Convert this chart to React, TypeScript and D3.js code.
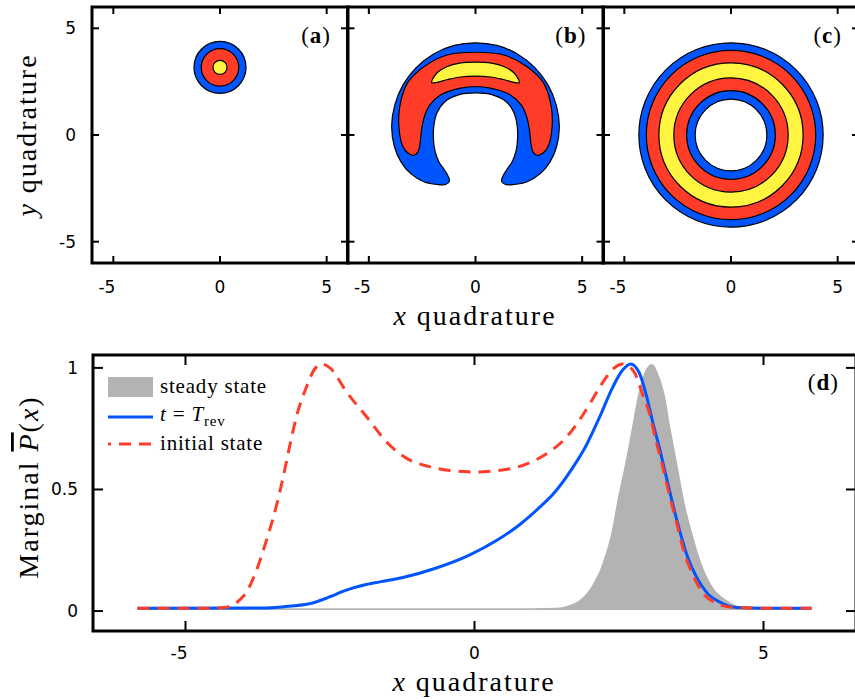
import { useEffect, useRef } from "react"
import * as d3 from "d3"

// tick values
const quadTicks = [-5, 0, 5]
const marginalTicks = [0, 0.5, 1]
const panelLabels = ["a", "b", "c"]

// contour levels: 0 = empty, 1 = blue, 2 = red, 3 = yellow
const ringCenterA = [0, 3.17]
const ringRadiiA = [1.22, 0.88, 0.33]
const ringLevelsA = [1, 2, 3]

const ringCenterC = [0, 0]
const ringRadiiC = [4.32, 3.97, 3.38, 2.68, 2.08, 1.68]
const ringLevelsC = [1, 2, 3, 2, 1, 0]

// panel (b): right halves of the contour outlines (mirrored about x = 0)
const horseshoeBlueHalf = [
  [0, 4.32], [1.0, 4.2], [1.96, 3.8], [2.77, 3.17], [3.39, 2.36], [3.78, 1.42],
  [3.93, 0.4], [3.8, -0.55], [3.5, -1.25], [3.05, -1.8], [2.42, -2.19], [1.8, -2.32],
  [1.4, -2.32], [1.22, -2.16], [1.3, -1.9], [1.45, -1.65], [1.72, -1.25], [1.9, -0.75],
  [1.97, -0.2], [1.95, 0.45], [1.8, 1.05], [1.45, 1.55], [0.8, 1.88], [0, 1.97],
]
const horseshoeRedHalf = [
  [0, 3.88], [1.33, 3.75], [2.42, 3.2], [3.2, 2.42], [3.55, 1.33], [3.59, 0.39],
  [3.42, -0.5], [3.15, -0.86], [2.9, -0.95], [2.7, -0.8], [2.6, -0.4], [2.52, 0.3],
  [2.4, 0.85], [2.15, 1.4], [1.64, 1.88], [0.7, 2.2], [0, 2.27],
]
const crescentYellowHalf = [
  [0, 3.42], [0.75, 3.37], [1.35, 3.2], [1.8, 2.92], [2.02, 2.6], [2.05, 2.45],
  [1.8, 2.47], [1.3, 2.6], [0.7, 2.72], [0, 2.76],
]
const horseshoeHalves = [horseshoeBlueHalf, horseshoeRedHalf, crescentYellowHalf]
const horseshoeLevels = [1, 2, 3]

// panel (d): marginal distributions
const steadyX = [-5.83, 1.0, 1.42, 1.65, 1.82, 2.04, 2.22, 2.37, 2.48, 2.6, 2.72, 2.83, 2.94, 3.0, 3.06, 3.12, 3.17, 3.29, 3.4, 3.52, 3.63, 3.78, 3.92, 4.1, 4.36, 4.64, 5.0, 5.83]
const steadyP = [0.012, 0.012, 0.014, 0.025, 0.045, 0.107, 0.2, 0.325, 0.465, 0.6, 0.75, 0.89, 0.98, 1.006, 1.016, 1.006, 0.98, 0.89, 0.74, 0.59, 0.45, 0.31, 0.2, 0.107, 0.045, 0.016, 0.012, 0.012]

const revX = [-5.83, -3.6, -3.2, -2.8, -2.51, -2.22, -1.93, -1.64, -1.24, -0.66, -0.09, 0.38, 0.78, 1.12, 1.41, 1.7, 1.93, 2.16, 2.39, 2.56, 2.7, 2.85, 2.97, 3.08, 3.2, 3.32, 3.43, 3.55, 3.69, 3.84, 4.01, 4.24, 4.53, 5.0, 5.83]
const revP = [0.012, 0.013, 0.02, 0.033, 0.058, 0.086, 0.106, 0.12, 0.138, 0.177, 0.23, 0.29, 0.355, 0.425, 0.495, 0.59, 0.68, 0.795, 0.92, 0.99, 1.016, 0.98, 0.89, 0.78, 0.67, 0.55, 0.44, 0.33, 0.22, 0.14, 0.078, 0.037, 0.015, 0.012, 0.012]

const initX = [-5.83, -4.6, -4.33, -3.98, -3.77, -3.6, -3.43, -3.32, -3.2, -3.08, -2.91, -2.78, -2.65, -2.5, -2.21, -1.87, -1.5, -1.15, -0.8, -0.43, 0, 0.61, 1.0, 1.3, 1.59, 1.8, 1.99, 2.19, 2.42, 2.56, 2.68, 2.77, 2.91, 3.03, 3.14, 3.26, 3.37, 3.49, 3.63, 3.78, 3.95, 4.18, 4.47, 5.0, 5.83]
const initP = [0.012, 0.012, 0.015, 0.066, 0.169, 0.29, 0.43, 0.54, 0.675, 0.8, 0.92, 0.99, 1.016, 1.0, 0.9, 0.8, 0.69, 0.625, 0.595, 0.578, 0.572, 0.585, 0.615, 0.655, 0.715, 0.78, 0.85, 0.93, 1.0, 1.016, 1.005, 0.98, 0.89, 0.81, 0.7, 0.59, 0.48, 0.37, 0.24, 0.148, 0.074, 0.033, 0.015, 0.012, 0.012]

const BLUE = "#0055ff"
const RED = "#ff3c28"
const YELLOW = "#fff540"
const GRAY = "#b3b3b3"

const serif = "'Liberation Serif', 'Times New Roman', serif"
const sans = "'DejaVu Sans', sans-serif"

export default function App() {
  const svgRef = useRef<SVGSVGElement>(null)

  useEffect(() => {
    if (!svgRef.current) return
    const svg = d3.select(svgRef.current)
    svg.selectAll("*").remove()

    const levelColor = d3.scaleOrdinal<number, string>().domain([0, 1, 2, 3]).range(["#ffffff", BLUE, RED, YELLOW])

    // ---- top panels ----
    const size = 256
    const top = 7
    const lefts = [92, 347.5, 603]
    const tickLen = 7

    panelLabels.forEach((lab, i) => {
      const left = lefts[i]
      const x = d3.scaleLinear().domain([-6, 6]).range([left, left + size])
      const y = d3.scaleLinear().domain([-6, 6]).range([top + size, top])
      const g = svg.append("g")

      if (lab === "b") {
        const line = d3
          .line<number[]>()
          .x((d) => x(d[0]))
          .y((d) => y(d[1]))
          .curve(d3.curveCatmullRomClosed.alpha(0.5))
        horseshoeHalves.forEach((half, k) => {
          const full = half.concat(half.slice(1, -1).reverse().map(([px, py]) => [-px, py]))
          g.append("path")
            .attr("d", line(full))
            .attr("fill", levelColor(horseshoeLevels[k]))
            .attr("stroke", "#000")
            .attr("stroke-width", 1.2)
        })
      } else {
        const radii = lab === "a" ? ringRadiiA : ringRadiiC
        const levels = lab === "a" ? ringLevelsA : ringLevelsC
        const c = lab === "a" ? ringCenterA : ringCenterC
        g.selectAll("circle")
          .data(radii)
          .join("circle")
          .attr("cx", x(c[0]))
          .attr("cy", y(c[1]))
          .attr("r", (d) => x(d) - x(0))
          .attr("fill", (d, k) => levelColor(levels[k]))
          .attr("stroke", "#000")
          .attr("stroke-width", 1.2)
      }

      // frame
      g.append("rect")
        .attr("x", left)
        .attr("y", top)
        .attr("width", size)
        .attr("height", size)
        .attr("fill", "none")
        .attr("stroke", "#000")
        .attr("stroke-width", 3)

      // ticks on all four sides
      quadTicks.forEach((t) => {
        g.append("line").attr("x1", x(t)).attr("x2", x(t)).attr("y1", top + size).attr("y2", top + size - tickLen)
        g.append("line").attr("x1", x(t)).attr("x2", x(t)).attr("y1", top).attr("y2", top + tickLen)
        g.append("line").attr("y1", y(t)).attr("y2", y(t)).attr("x1", left).attr("x2", left + tickLen)
        g.append("line").attr("y1", y(t)).attr("y2", y(t)).attr("x1", left + size).attr("x2", left + size - tickLen)
      })
      g.selectAll("line").attr("stroke", "#000").attr("stroke-width", 2)

      // x tick labels
      quadTicks.forEach((t) => {
        g.append("text")
          .attr("x", t < 0 ? x(t) + 2 : x(t))
          .attr("y", 293)
          .attr("text-anchor", t < 0 ? "end" : "middle")
          .style("font-family", sans)
          .style("font-size", "17px")
          .text(String(t))
      })
      if (i === 0) {
        quadTicks.forEach((t) => {
          g.append("text")
            .attr("x", 76)
            .attr("y", y(t) + 6)
            .attr("text-anchor", "end")
            .style("font-family", sans)
            .style("font-size", "17px")
            .text(String(t))
        })
      }

      // panel label
      const pl = g
        .append("text")
        .attr("x", left + size - 17)
        .attr("y", 43)
        .attr("text-anchor", "end")
        .style("font-family", serif)
        .style("font-size", "23px")
        .style("letter-spacing", "1px")
      pl.append("tspan").text("(")
      pl.append("tspan").style("font-weight", "bold").text(lab)
      pl.append("tspan").text(")")
    })

    const titleStyle = (t: d3.Selection<SVGTextElement, unknown, null, undefined>) =>
      t.style("font-family", serif).style("font-size", "28px").style("letter-spacing", "2px").attr("text-anchor", "middle")

    // top x title
    const tx = svg.append("text").attr("x", 475).attr("y", 325).call(titleStyle)
    tx.append("tspan").style("font-style", "italic").text("x")
    tx.append("tspan").text(" quadrature")

    // y title
    const ty = svg.append("text").attr("transform", "translate(36,135) rotate(-90)").call(titleStyle)
    ty.append("tspan").style("font-style", "italic").text("y")
    ty.append("tspan").text(" quadrature")

    // ---- bottom panel ----
    const bl = 93
    const br = 856
    const bt = 355
    const bb = 631
    const bx = d3.scaleLinear().domain([-6.6, 6.6]).range([bl, br])
    const by = d3.scaleLinear().domain([-0.082, 1.053]).range([bb, bt])
    const gd = svg.append("g")

    const steady = steadyX.map((v, k) => [v, steadyP[k]])
    const rev = revX.map((v, k) => [v, revP[k]])
    const init = initX.map((v, k) => [v, initP[k]])

    gd.append("path")
      .attr(
        "d",
        d3
          .area<number[]>()
          .x((d) => bx(d[0]))
          .y0(by(0.004))
          .y1((d) => by(d[1]))
          .curve(d3.curveMonotoneX)(steady)
      )
      .attr("fill", GRAY)

    const curve = d3
      .line<number[]>()
      .x((d) => bx(d[0]))
      .y((d) => by(d[1]))
      .curve(d3.curveMonotoneX)

    gd.append("path").attr("d", curve(rev)).attr("fill", "none").attr("stroke", BLUE).attr("stroke-width", 3)
    gd.append("path")
      .attr("d", curve(init))
      .attr("fill", "none")
      .attr("stroke", RED)
      .attr("stroke-width", 3)
      .attr("stroke-dasharray", "12,8")

    gd.append("rect")
      .attr("x", bl)
      .attr("y", bt)
      .attr("width", br - bl)
      .attr("height", bb - bt)
      .attr("fill", "none")
      .attr("stroke", "#000")
      .attr("stroke-width", 3)

    const dTick = 10
    const tg = gd.append("g").attr("stroke", "#000").attr("stroke-width", 2)
    quadTicks.forEach((t) => {
      tg.append("line").attr("x1", bx(t)).attr("x2", bx(t)).attr("y1", bb).attr("y2", bb - dTick)
      tg.append("line").attr("x1", bx(t)).attr("x2", bx(t)).attr("y1", bt).attr("y2", bt + dTick)
      gd.append("text")
        .attr("x", t < 0 ? bx(t) + 2 : bx(t))
        .attr("y", 659)
        .attr("text-anchor", t < 0 ? "end" : "middle")
        .style("font-family", sans)
        .style("font-size", "17px")
        .text(String(t))
    })
    marginalTicks.forEach((t) => {
      tg.append("line").attr("y1", by(t)).attr("y2", by(t)).attr("x1", bl).attr("x2", bl + dTick)
      tg.append("line").attr("y1", by(t)).attr("y2", by(t)).attr("x1", br).attr("x2", br - dTick)
      gd.append("text")
        .attr("x", 78)
        .attr("y", by(t) + 6)
        .attr("text-anchor", "end")
        .style("font-family", sans)
        .style("font-size", "17px")
        .text(String(t))
    })

    // legend
    const lg = gd.append("g")
    lg.append("rect").attr("x", 108).attr("y", 377).attr("width", 45).attr("height", 20).attr("fill", GRAY)
    lg.append("line").attr("x1", 108).attr("x2", 153).attr("y1", 417).attr("y2", 417).attr("stroke", BLUE).attr("stroke-width", 3)
    lg.append("line")
      .attr("x1", 108)
      .attr("x2", 153)
      .attr("y1", 444)
      .attr("y2", 444)
      .attr("stroke", RED)
      .attr("stroke-width", 3)
      .attr("stroke-dasharray", "12,8")
      .attr("stroke-dashoffset", 9)
    const legendText = (yy: number) =>
      lg.append("text").attr("x", 160).attr("y", yy).style("font-family", serif).style("font-size", "21px").style("letter-spacing", "0.8px")
    legendText(393).text("steady state")
    const lt = legendText(421)
    lt.append("tspan").style("font-style", "italic").text("t")
    lt.append("tspan").text(" = ")
    lt.append("tspan").style("font-style", "italic").text("T")
    lt.append("tspan").attr("dy", 5).style("font-size", "15px").text("rev")
    legendText(450).text("initial state")

    const dl = gd
      .append("text")
      .attr("x", br - 17)
      .attr("y", 390)
      .attr("text-anchor", "end")
      .style("font-family", serif)
      .style("font-size", "23px")
      .style("letter-spacing", "1px")
    dl.append("tspan").text("(")
    dl.append("tspan").style("font-weight", "bold").text("d")
    dl.append("tspan").text(")")

    // bottom titles
    const bxT = svg.append("text").attr("x", 474).attr("y", 691).call(titleStyle)
    bxT.append("tspan").style("font-style", "italic").text("x")
    bxT.append("tspan").text(" quadrature")

    const byT = svg.append("text").attr("transform", "translate(38,487) rotate(-90)").call(titleStyle)
    byT.append("tspan").text("Marginal ")
    byT.append("tspan").style("font-style", "italic").style("text-decoration", "overline").text("P")
    byT.append("tspan").text("(")
    byT.append("tspan").style("font-style", "italic").text("x")
    byT.append("tspan").text(")")
  }, [])

  return (
    <svg
      ref={svgRef}
      width={855}
      height={700}
      style={{ position: "absolute", left: 0, top: 0, background: "#fff" }}
    />
  )
}
